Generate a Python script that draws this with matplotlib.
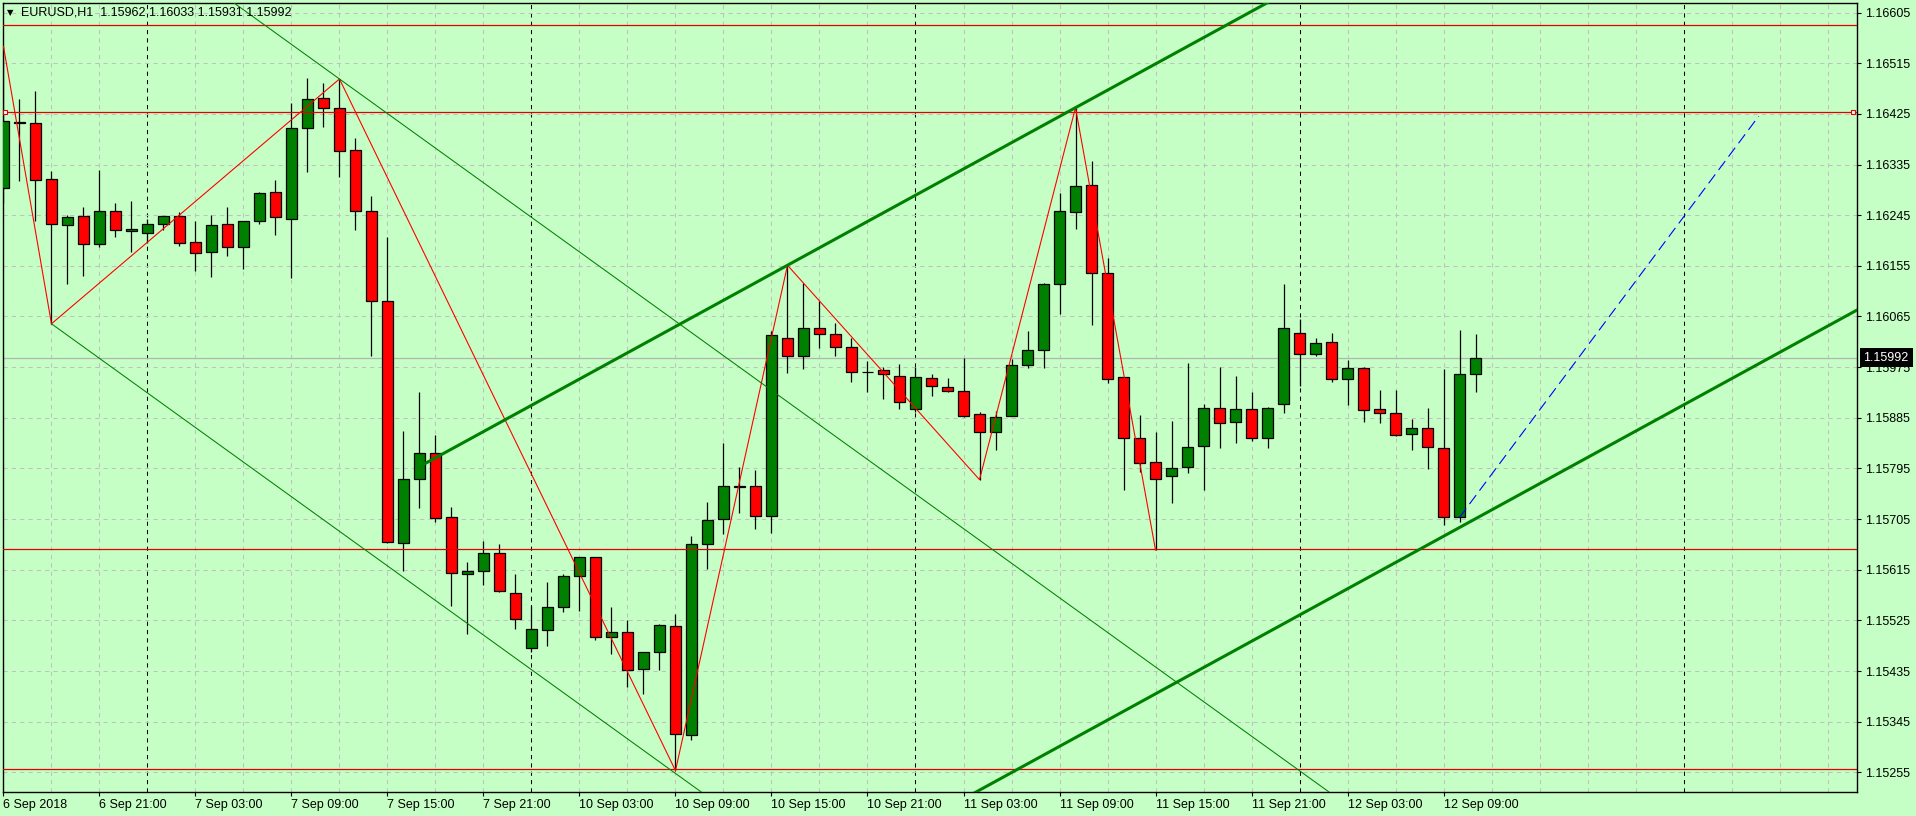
import numpy as np
import matplotlib.pyplot as plt
from matplotlib.transforms import blended_transform_factory

plt.rcParams['font.family'] = ['Liberation Sans', 'DejaVu Sans']
plt.rcParams['font.size'] = 9

# === DONNEES (EURUSD H1, 6 Sep 15:00 -> 12 Sep 11:00) ===
opens = [
    1.16293, 1.16409, 1.16408, 1.16309, 1.16227, 1.16243, 1.16193, 1.16252, 1.16216, 1.16213,
    1.16229, 1.16243, 1.16197, 1.16179, 1.16229, 1.16188, 1.16234, 1.16286, 1.16239, 1.16399,
    1.16454, 1.16436, 1.16360, 1.16253, 1.16092, 1.15662, 1.15777, 1.15823, 1.15708, 1.15607,
    1.15612, 1.15645, 1.15574, 1.15475, 1.15507, 1.15549, 1.15604, 1.15637, 1.15495, 1.15504,
    1.15438, 1.15469, 1.15515, 1.15322, 1.15660, 1.15705, 1.15762, 1.15763, 1.15711, 1.16027,
    1.15994, 1.16044, 1.16033, 1.16010, 1.15966, 1.15969, 1.15960, 1.15900, 1.15955, 1.15939,
    1.15932, 1.15891, 1.15859, 1.15889, 1.15979, 1.16005, 1.16122, 1.16250, 1.16298, 1.16142,
    1.15957, 1.15849, 1.15807, 1.15781, 1.15797, 1.15835, 1.15903, 1.15877, 1.15901, 1.15849,
    1.15909, 1.16035, 1.15998, 1.16019, 1.15953, 1.15973, 1.15900, 1.15894, 1.15856, 1.15866,
    1.15832, 1.15708, 1.15962]
highs = [
    1.16545, 1.16451, 1.16465, 1.16323, 1.16245, 1.16259, 1.16325, 1.16266, 1.16271, 1.16239,
    1.16244, 1.16250, 1.16235, 1.16245, 1.16259, 1.16235, 1.16287, 1.16307, 1.16444, 1.16488,
    1.16479, 1.16487, 1.16383, 1.16279, 1.16207, 1.15862, 1.15930, 1.15854, 1.15727, 1.15629,
    1.15666, 1.15660, 1.15608, 1.15551, 1.15594, 1.15607, 1.15638, 1.15638, 1.15549, 1.15526,
    1.15469, 1.15518, 1.15536, 1.15675, 1.15736, 1.15840, 1.15798, 1.15792, 1.16040, 1.16156,
    1.16125, 1.16093, 1.16053, 1.16027, 1.15986, 1.15975, 1.15980, 1.15975, 1.15963, 1.15956,
    1.15991, 1.15895, 1.15897, 1.15989, 1.16039, 1.16124, 1.16284, 1.16436, 1.16342, 1.16168,
    1.15957, 1.15890, 1.15860, 1.15879, 1.15983, 1.15909, 1.15975, 1.15960, 1.15930, 1.15905,
    1.16123, 1.16060, 1.16027, 1.16035, 1.15988, 1.15976, 1.15935, 1.15935, 1.15882, 1.15902,
    1.15971, 1.16041, 1.16033]
lows = [
    1.16267, 1.16306, 1.16235, 1.16052, 1.16123, 1.16137, 1.16188, 1.16207, 1.16179, 1.16196,
    1.16219, 1.16191, 1.16145, 1.16136, 1.16173, 1.16149, 1.16229, 1.16210, 1.16134, 1.16321,
    1.16401, 1.16312, 1.16219, 1.15995, 1.15663, 1.15613, 1.15724, 1.15699, 1.15551, 1.15501,
    1.15588, 1.15576, 1.15509, 1.15469, 1.15480, 1.15539, 1.15541, 1.15490, 1.15466, 1.15406,
    1.15394, 1.15437, 1.15258, 1.15313, 1.15616, 1.15679, 1.15716, 1.15688, 1.15681, 1.15965,
    1.15971, 1.16009, 1.15994, 1.15949, 1.15930, 1.15919, 1.15900, 1.15896, 1.15923, 1.15930,
    1.15886, 1.15775, 1.15827, 1.15889, 1.15973, 1.15973, 1.16070, 1.16221, 1.16050, 1.15947,
    1.15756, 1.15789, 1.15650, 1.15733, 1.15786, 1.15756, 1.15832, 1.15841, 1.15843, 1.15832,
    1.15894, 1.15941, 1.15994, 1.15949, 1.15907, 1.15877, 1.15875, 1.15853, 1.15827, 1.15794,
    1.15695, 1.15699, 1.15931]
closes = [
    1.16412, 1.16410, 1.16307, 1.16229, 1.16241, 1.16193, 1.16252, 1.16218, 1.16220, 1.16229,
    1.16243, 1.16195, 1.16177, 1.16227, 1.16188, 1.16234, 1.16285, 1.16241, 1.16399, 1.16452,
    1.16436, 1.16359, 1.16253, 1.16093, 1.15664, 1.15776, 1.15822, 1.15706, 1.15609, 1.15612,
    1.15645, 1.15577, 1.15527, 1.15509, 1.15548, 1.15604, 1.15637, 1.15495, 1.15505, 1.15436,
    1.15469, 1.15516, 1.15323, 1.15660, 1.15703, 1.15763, 1.15763, 1.15711, 1.16032, 1.15995,
    1.16044, 1.16033, 1.16010, 1.15966, 1.15967, 1.15962, 1.15913, 1.15957, 1.15941, 1.15932,
    1.15889, 1.15859, 1.15886, 1.15979, 1.16005, 1.16122, 1.16252, 1.16296, 1.16142, 1.15954,
    1.15849, 1.15805, 1.15776, 1.15796, 1.15833, 1.15903, 1.15875, 1.15901, 1.15849, 1.15903,
    1.16044, 1.15998, 1.16017, 1.15953, 1.15973, 1.15898, 1.15893, 1.15854, 1.15866, 1.15833,
    1.15708, 1.15962, 1.15992]

tick_bars = [0, 6, 12, 18, 24, 30, 36, 42, 48, 54, 60, 66, 72, 78, 84, 90]
tick_labels = ["6 Sep 2018", "6 Sep 21:00", "7 Sep 03:00", "7 Sep 09:00", "7 Sep 15:00",
               "7 Sep 21:00", "10 Sep 03:00", "10 Sep 09:00", "10 Sep 15:00", "10 Sep 21:00",
               "11 Sep 03:00", "11 Sep 09:00", "11 Sep 15:00", "11 Sep 21:00",
               "12 Sep 03:00", "12 Sep 09:00"]
price_ticks = [1.15255, 1.15345, 1.15435, 1.15525, 1.15615, 1.15705, 1.15795, 1.15885,
               1.15975, 1.16065, 1.16155, 1.16245, 1.16335, 1.16425, 1.16515, 1.16605]
day_separators = [9, 33, 57, 81, 105]

red_levels = [1.16583, 1.16429, 1.15652, 1.15261]
bid = 1.15992

zz_bars = [0, 3, 21, 42, 49, 61, 67, 72]
zz_prices = [1.16545, 1.16052, 1.16487, 1.15258, 1.16156, 1.15775, 1.16436, 1.15650]

# canal fin (descendant): base + point parallele
thin_base = [(3, 1.16052), (42, 1.15253)]
thin_par = (21, 1.16487)
# canal epais (montant)
thick_base = [(49, 1.16156), (67, 1.16436)]
thick_start = 26
thick_par = (91, 1.15690)
# ligne bleue pointillee
blue_line = [(91, 1.15708), (109.7, 1.16421)]

BG = '#C6FFC6'
GRID = '#C0C0C0'
BULL = '#008000'
BEAR = '#FF0000'

o = np.array(opens); h = np.array(highs); l = np.array(lows); c = np.array(closes)
x = np.arange(len(o))
up = c >= o

fig = plt.figure(figsize=(19.16, 8.16), dpi=100, facecolor=BG)
ax = fig.add_axes([2.5 / 1916, 24 / 816, 1854 / 1916, 789 / 816], facecolor=BG)
xmax = 115.81
ax.set_xlim(-0.06, xmax)
ax.set_ylim(1.15220, 1.16622)

# === GRILLE ===
for b in range(3, 116, 3):
    if b in day_separators:
        ax.axvline(b, color='black', lw=0.75, ls=(0, (4, 4)), zorder=1)
    else:
        ax.axvline(b, color=GRID, lw=0.75, ls=(0, (4, 4)), zorder=1)
for p in price_ticks:
    ax.axhline(p, color=GRID, lw=0.75, ls=(0, (4, 4)), zorder=1)

ax.axhline(bid, color='#B4B4B4', lw=0.9, zorder=1.5)

# === BOUGIES ===
ax.vlines(x, l, h, color='black', lw=0.9, zorder=3)
body_lo = np.minimum(o, c)
body_h = np.abs(c - o)
ax.bar(x[up], body_h[up], bottom=body_lo[up], width=0.64, color=BULL,
       edgecolor='black', linewidth=0.9, zorder=4)
ax.bar(x[~up], body_h[~up], bottom=body_lo[~up], width=0.64, color=BEAR,
       edgecolor='black', linewidth=0.9, zorder=4)

# === OBJETS ===
for lvl in red_levels:
    ax.axhline(lvl, color='#E00000', lw=0.9, zorder=5)
ax.plot([0.08, xmax - 0.2], [1.16429, 1.16429], ls='none', marker='s', ms=3.2,
        mfc='white', mec='#E00000', mew=0.8, zorder=6, clip_on=False)

ax.plot(zz_bars, zz_prices, color='#FF0000', lw=0.8, zorder=5)

def line_pts(p1, p2, x0, x1):
    k = (p2[1] - p1[1]) / (p2[0] - p1[0])
    return [x0, x1], [p1[1] + k * (x0 - p1[0]), p1[1] + k * (x1 - p1[0])], k

xs, ys, k = line_pts(thin_base[0], thin_base[1], thin_base[0][0], 140)
ax.plot(xs, ys, color=BULL, lw=0.75, zorder=5)
ax.plot(xs, [thin_par[1] + k * (xx - thin_par[0]) for xx in xs], color=BULL, lw=0.75, zorder=5)

xs, ys, k = line_pts(thick_base[0], thick_base[1], thick_start, 140)
ax.plot(xs, ys, color=BULL, lw=2.2, zorder=5, solid_capstyle='butt')
ax.plot(xs, [thick_par[1] + k * (xx - thick_par[0]) for xx in xs], color=BULL, lw=2.2,
        zorder=5, solid_capstyle='butt')

ax.plot([p[0] for p in blue_line], [p[1] for p in blue_line], color='#0000FF', lw=0.8,
        ls=(0, (10, 5)), zorder=5)

# === AXES ===
for s in ax.spines.values():
    s.set_color('black')
    s.set_linewidth(1.0)
ax.set_xticks(tick_bars)
ax.set_xticklabels(tick_labels, ha='left')
ax.tick_params(axis='x', direction='out', length=3, width=0.8, pad=2, colors='black')
ax.yaxis.tick_right()
ax.set_yticks(price_ticks)
ax.set_yticklabels([f"{p:.5f}" for p in price_ticks])
ax.tick_params(axis='y', direction='out', length=3, width=0.8, pad=3, colors='black')

# prix courant
tr = blended_transform_factory(ax.transAxes, ax.transData)
ax.text(1.0 + 7 / 1854, bid, f"{bid:.5f}", transform=tr, color='white', fontsize=9,
        ha='left', va='center', zorder=10, clip_on=False,
        bbox=dict(boxstyle='square,pad=0.3', fc='black', ec='none'))

# titre
fig.text(10.5 / 1916, 1 - 12.5 / 816, '\u25bc', fontsize=6, ha='center', va='center',
         family=['DejaVu Sans'])
fig.text(21 / 1916, 1 - 12.5 / 816, "EURUSD,H1  1.15962 1.16033 1.15931 1.15992",
         ha='left', va='center', fontsize=9)

fig.savefig("out.png", dpi=100, facecolor=BG)
